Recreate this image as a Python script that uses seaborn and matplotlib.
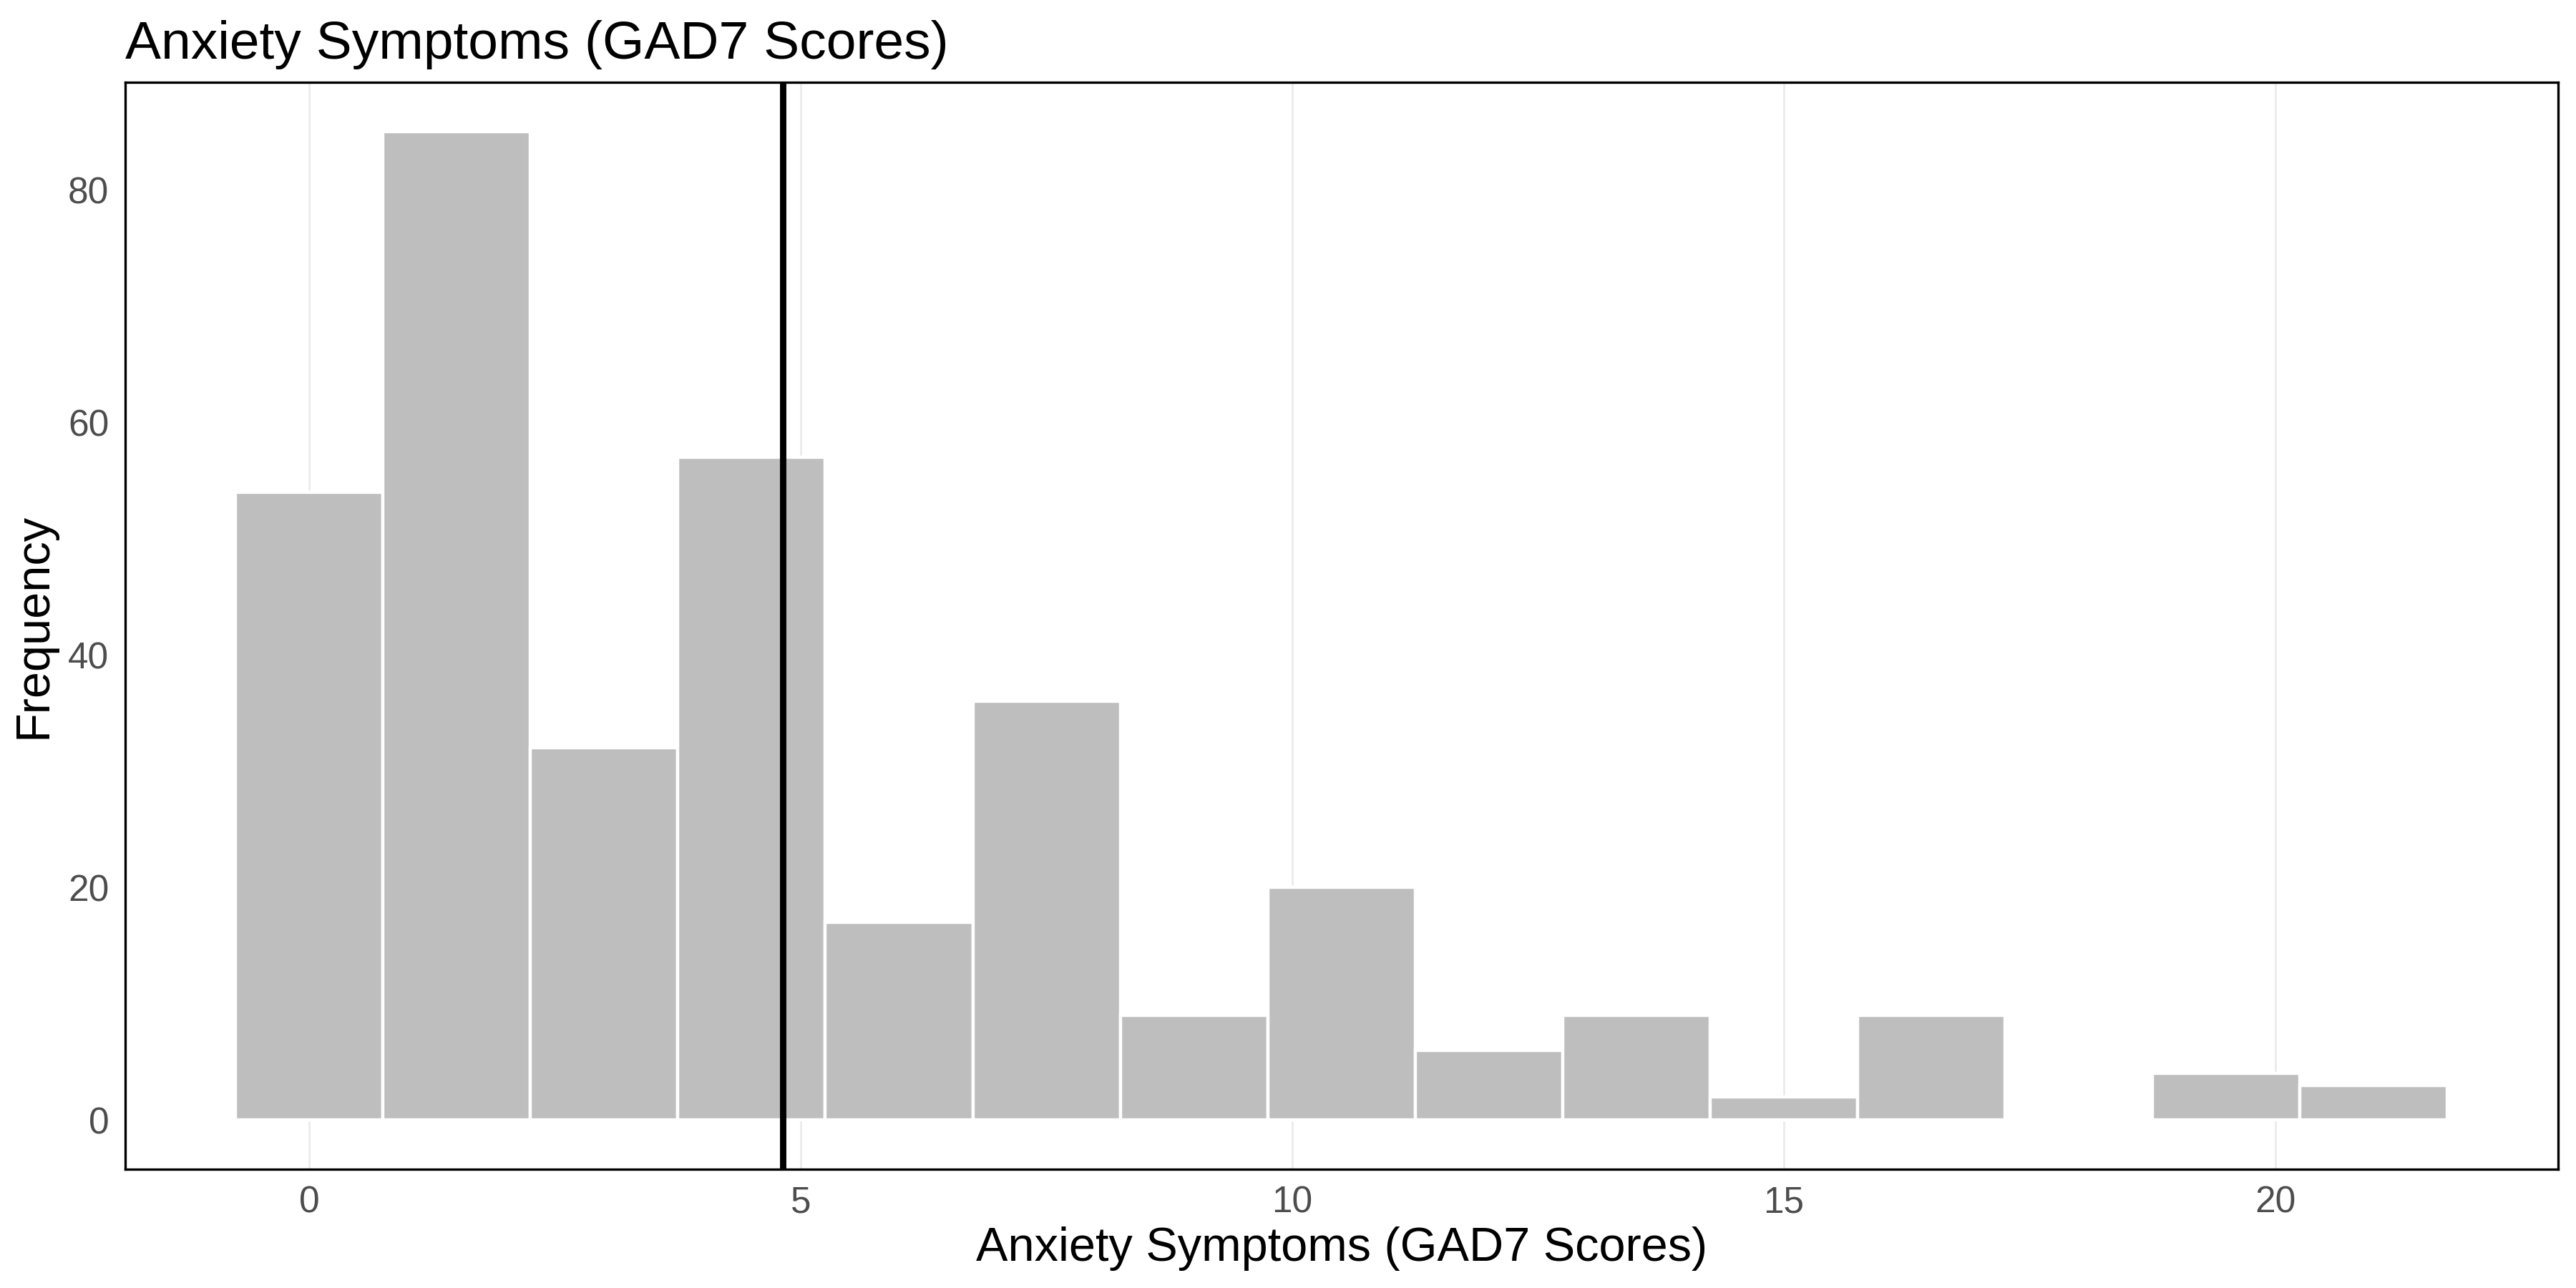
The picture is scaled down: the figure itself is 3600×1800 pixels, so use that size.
import matplotlib
matplotlib.use("Agg")
import matplotlib.pyplot as plt
import seaborn as sns

# ビンの中心とその度数
bin_centers = [0, 1.5, 3, 4.5, 6, 7.5, 9, 10.5, 12, 13.5, 15, 16.5, 18, 19.5, 21]
bin_counts = [54, 85, 32, 57, 17, 36, 9, 20, 6, 9, 2, 9, 0, 4, 3]
mean_score = 4.82
x_ticks = [0, 5, 10, 15, 20]
y_ticks = [0, 20, 40, 60, 80]

sns.set_theme(style="white")
plt.rcParams['font.family'] = ['Liberation Sans', 'DejaVu Sans']

fig, ax = plt.subplots(figsize=(18, 9), dpi=200)
fig.subplots_adjust(left=0.0485, right=0.993, top=0.936, bottom=0.092)

# ヒストグラム
sns.histplot(x=bin_centers, weights=bin_counts, binwidth=1.5, binrange=(-0.75, 21.75),
             color='#BEBEBE', edgecolor='white', linewidth=1.6, alpha=1, ax=ax, zorder=2)

# 平均値の縦線
ax.axvline(mean_score, color='black', linewidth=3.2, zorder=3)

ax.set_xlim(-1.875, 22.875)
ax.set_ylim(-4.25, 89.25)
ax.set_xticks(x_ticks)
ax.set_yticks(y_ticks)
ax.grid(axis='x', color='#EBEBEB', linewidth=1.0, zorder=0)
ax.grid(axis='y', visible=False)
ax.set_axisbelow(True)
ax.tick_params(axis='both', length=0, labelsize=18.5, labelcolor='#4D4D4D', pad=8)

for spine in ax.spines.values():
    spine.set_visible(True)
    spine.set_color('black')
    spine.set_linewidth(1.2)

ax.set_title('Anxiety Symptoms (GAD7 Scores)', loc='left', fontsize=27, pad=12, color='black')
ax.set_xlabel('Anxiety Symptoms (GAD7 Scores)', fontsize=24, labelpad=3, color='black')
ax.set_ylabel('Frequency', fontsize=24, labelpad=6, color='black')

plt.savefig('out.png', dpi=200)
plt.close()
